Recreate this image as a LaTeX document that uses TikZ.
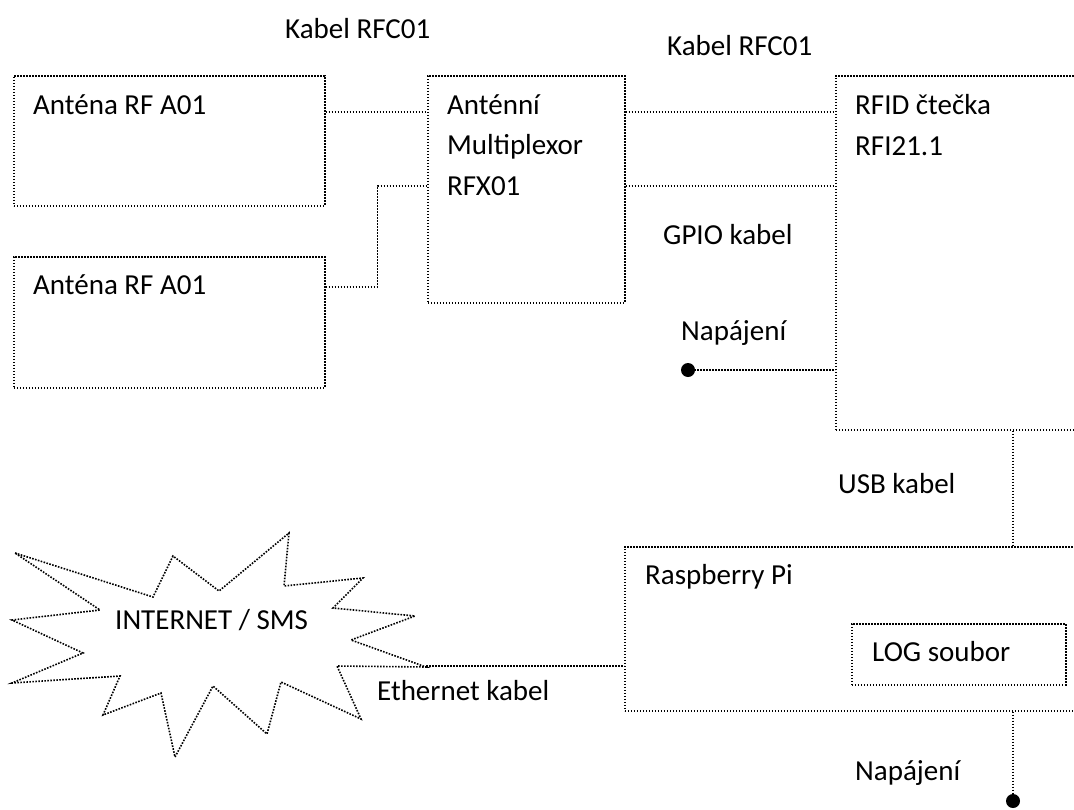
\documentclass[tikz,border=0pt]{standalone}
\usepackage{fontspec}
\setmainfont{Carlito}
\begin{document}
\begin{tikzpicture}[x=1pt,y=-1pt,
  box/.style={draw, line width=1.6pt, dash pattern=on 1.6pt off 1.4pt, rectangle, inner sep=0pt, anchor=north west},
  conn/.style={line width=1.6pt, dash pattern=on 1.6pt off 1.4pt},
  lbl/.style={anchor=base west, inner sep=0pt, font=\fontsize{29}{35}\selectfont},
  dotnode/.style={circle, fill=black, inner sep=0pt, minimum size=14pt}]
\useasboundingbox (0,0) rectangle (1074,809);
\clip (0,0) rectangle (1074,809);

% boxes
\node[box, minimum width=311pt, minimum height=130pt] (ant1) at (13,75) {};
\node[box, minimum width=311pt, minimum height=131pt] (ant2) at (13,256) {};
\node[box, minimum width=197pt, minimum height=227pt] (mux) at (427,75) {};
\node[box, minimum width=320pt, minimum height=354pt] (rfid) at (835,75) {};
\node[box, minimum width=520pt, minimum height=164pt] (rpi) at (624,546) {};
\node[box, minimum width=214pt, minimum height=61pt] (log) at (851,623) {};

% labels
\node[lbl] (t1) at (33,114) {Anténa RF A01};
\node[lbl] (t2) at (33,294) {Anténa RF A01};
\node[lbl] (t3a) at (447,114) {Anténní};
\node[lbl] (t3b) at (447,154) {Multiplexor};
\node[lbl] (t3c) at (447,195) {RFX01};
\node[lbl] (t4a) at (855,114) {RFID čtečka};
\node[lbl] (t4b) at (855,155) {RFI21.1};
\node[lbl] (t5) at (645,584) {Raspberry Pi};
\node[lbl] (t6) at (872,661) {LOG soubor};
\node[lbl] (k1) at (285,38) {Kabel RFC01};
\node[lbl] (k2) at (667,55) {Kabel RFC01};
\node[lbl] (gpio) at (663,244) {GPIO kabel};
\node[lbl] (nap1) at (681,340) {Napájení};
\node[lbl] (usb) at (838,493) {USB kabel};
\node[lbl] (nap2) at (855,780) {Napájení};
\node[lbl] (inet) at (115,629) {INTERNET / SMS};
\node[lbl] (eth) at (377,700) {Ethernet kabel};

% star
\draw[conn] (15,553) -- (153,597) -- (173,556) -- (219,591) -- (289,533) -- (284,586)
  -- (363,578) -- (333,608) -- (415,616) -- (351,640) -- (426,667) -- (337,666)
  -- (361,719) -- (281,682) -- (267,734) -- (213,686) -- (175,757) -- (161,693)
  -- (103,715) -- (120,676) -- (12,683) -- (83,653) -- (12,620) -- (100,610) -- cycle;
\coordinate (startip) at (426,666);

% dots
\node[dotnode] (pwr1) at (688,370) {};
\node[dotnode] (pwr2) at (1013,801) {};
\coordinate (usbx) at (1013,0);

% connectors
\draw[conn] ([yshift=-37pt]ant1.north east) -- ([yshift=-37pt]mux.north west);
\draw[conn] ([yshift=-31pt]ant2.north east) -- ++(52,0) |- ([yshift=-111pt]mux.north west);
\draw[conn] ([yshift=-37pt]mux.north east) -- ([yshift=-37pt]mux.north east -| rfid.west);
\draw[conn] ([yshift=-111pt]mux.north east) -- ([yshift=-111pt]mux.north east -| rfid.west);
\draw[conn] (pwr1.center) -- (pwr1 -| rfid.west);
\draw[conn] (usbx |- rfid.south) -- (usbx |- rpi.north);
\draw[conn] (pwr2 |- rpi.south) -- (pwr2.center);
\draw[conn] (startip) -- (startip -| rpi.west);
\end{tikzpicture}
\end{document}
